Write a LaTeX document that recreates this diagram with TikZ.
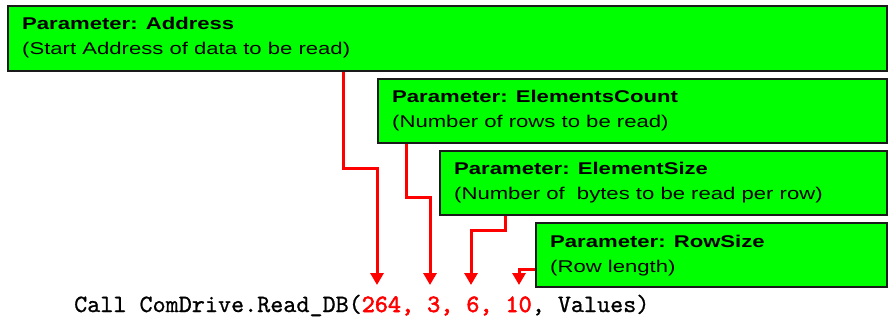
\documentclass[tikz,border=0pt]{standalone}
\usepackage{fontspec}
\usetikzlibrary{arrows.meta}
\newfontfamily\boxfont[FakeStretch=1.3]{Liberation Sans}
\newfontfamily\codefont[FakeBold=0.8]{lmmono10-regular.otf}
\newfontfamily\codebold[FakeBold=2.2]{lmmono10-regular.otf}
\definecolor{boxgreen}{HTML}{00FF00}
\definecolor{edgegray}{HTML}{1A1A1A}
\definecolor{linkred}{HTML}{FF0000}
\begin{document}
\begin{tikzpicture}[x=1pt,y=-1pt,
  pbox/.style={draw=edgegray,line width=1.6pt,fill=boxgreen,rectangle,anchor=north west,inner sep=0pt},
  ptitle/.style={anchor=base west,inner sep=0pt,font=\boxfont\fontsize{17}{17}\selectfont\bfseries},
  pdesc/.style={anchor=base west,inner sep=0pt,font=\boxfont\fontsize{17}{17}\selectfont},
  link/.style={draw=linkred,line width=3pt,-{Triangle[width=13pt,length=12pt]}},
  codetext/.style={anchor=base west,inner sep=0pt,font=\codefont\fontsize{24.9}{24.9}\selectfont}
]
\useasboundingbox (0,0) rectangle (888,323);

% boxes
\node[pbox,minimum width=879pt,minimum height=65pt] (b1) at (7,5) {};
\node[pbox,minimum width=509pt,minimum height=64pt] (b2) at (377,78) {};
\node[pbox,minimum width=447pt,minimum height=64pt] (b3) at (439,150) {};
\node[pbox,minimum width=351pt,minimum height=64pt] (b4) at (535,222) {};

% box texts
\node[ptitle] (t1) at ([xshift=15pt,yshift=-25pt]b1.north west) {Parameter: Address};
\node[pdesc]  (d1) at ([xshift=15pt,yshift=-50pt]b1.north west) {(Start Address of data to be read)};
\node[ptitle] (t2) at ([xshift=15pt,yshift=-25pt]b2.north west) {Parameter: ElementsCount};
\node[pdesc]  (d2) at ([xshift=15pt,yshift=-50pt]b2.north west) {(Number of rows to be read)};
\node[ptitle] (t3) at ([xshift=15pt,yshift=-25pt]b3.north west) {Parameter: ElementSize};
\node[pdesc]  (d3) at ([xshift=15pt,yshift=-50pt]b3.north west) {(Number of\ \ bytes to be read per row)};
\node[ptitle] (t4) at ([xshift=15pt,yshift=-25pt]b4.north west) {Parameter: RowSize};
\node[pdesc]  (d4) at ([xshift=15pt,yshift=-50pt]b4.north west) {(Row length)};

% code line
\node[codetext] (code) at (74,312) {Call ComDrive.Read\_DB(\textcolor{linkred}{\codebold 264, 3, 6, 10}, Values)};

% arrow targets
\coordinate (a264) at (377,285);
\coordinate (a3) at (430,285);
\coordinate (a6) at (471,285);
\coordinate (a10) at (519,285);

% connectors
\draw[link] ([xshift=336pt]b1.south west) -- ++(0,97) -| (a264);
\draw[link] ([xshift=29pt]b2.south west) -- ++(0,54) -| (a3);
\draw[link] ([xshift=66pt]b3.south west) -- ++(0,15) -| (a6);
\draw[link] ([yshift=-47pt]b4.north west) -| (a10);
\end{tikzpicture}
\end{document}
